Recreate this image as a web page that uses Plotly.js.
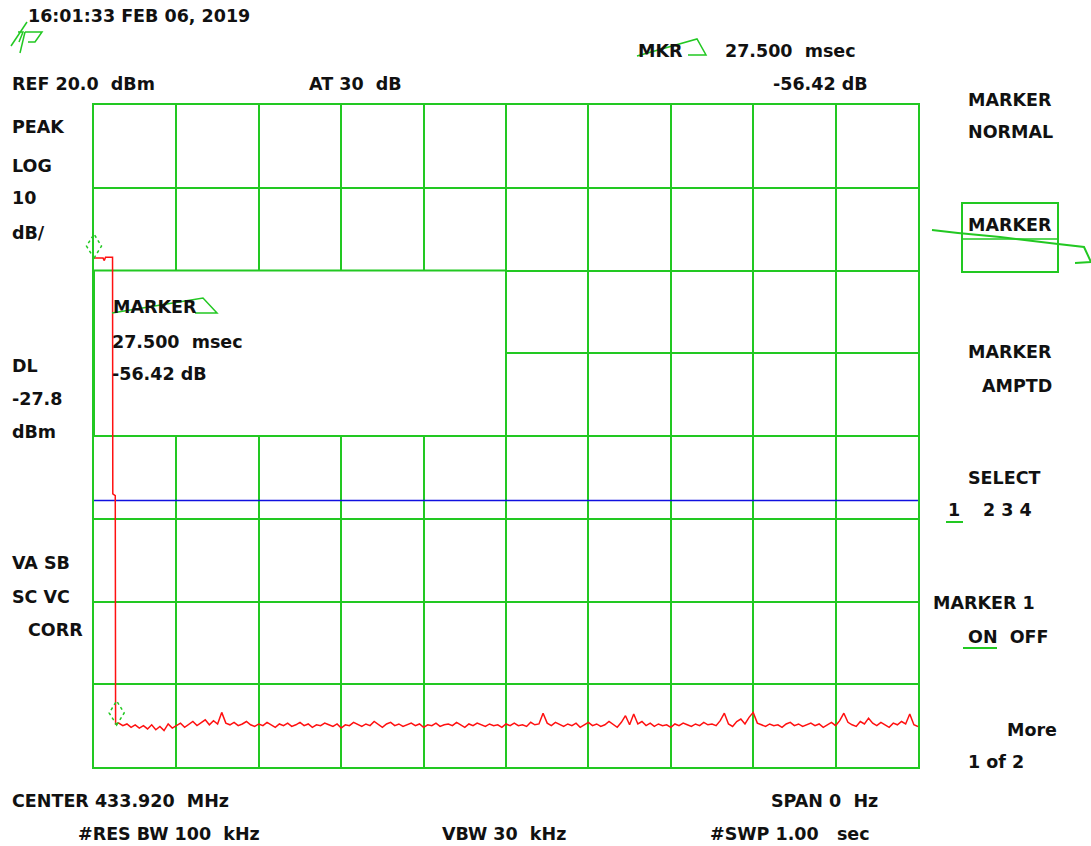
<!DOCTYPE html>
<html><head><meta charset="utf-8">
<script src="https://cdn.plot.ly/plotly-3.0.1.min.js"></script>
<style>html,body{margin:0;padding:0;background:#fff}#chart{width:1091px;height:846px}</style>
</head><body><div id="chart"></div>
<script>
// ---- instrument settings ----
const refLevel = 20;        // dBm (top of screen)
const dbPerDiv = 10;
const numDivY = 8;
const sweepTime = 1.0;      // s (span 0 Hz, time domain)
const displayLine = -27.8;  // dBm
const markerTime = 0.0275;  // s
const markerDelta = -56.42; // dB

// ---- trace: burst end (time s, level dBm) ----
const stepTimes  = [0, 0.011, 0.0125, 0.014, 0.0225, 0.0228, 0.0258, 0.0262];
const stepValues = [1.5, 1.5, 1.2, 1.6, 1.6, -27.0, -27.2, -54.8];

// ---- trace: noise floor, sampled every 5 ms from 30 ms ----
const noiseStart = 0.03;
const noiseStep = 0.005;
const noiseValues = [
 -54.7,-55.0,-54.8,-55.2,-54.9,-55.3,-55.0,-55.4,-54.9,-55.5,-55.1,-55.6,-54.8,-55.3,-55.0,
 -54.7,-55.2,-54.9,-54.5,-55.0,-54.6,-54.3,-54.9,-54.4,-54.8,-53.4,-54.7,-54.9,-54.6,-55.0,
 -54.8,-54.5,-54.9,-55.1,-54.8,-55.0,-54.6,-54.9,-55.2,-54.8,-55.0,-54.7,-55.1,-54.9,-54.6,
 -55.0,-54.8,-55.2,-54.9,-55.0,-54.7,-54.9,-55.1,-54.8,-55.3,-54.9,-55.0,-54.6,-54.9,-55.1,
 -54.8,-55.0,-54.5,-54.9,-55.2,-54.8,-54.6,-55.0,-54.8,-55.1,-54.9,-54.7,-55.0,-54.8,-55.2,
 -54.9,-55.0,-54.7,-55.1,-54.9,-54.8,-55.0,-54.6,-54.9,-55.2,-54.8,-55.0,-54.7,-54.9,-55.1,
 -54.8,-55.0,-54.9,-55.2,-54.8,-55.0,-54.7,-55.0,-54.9,-55.1,-54.6,-54.9,-54.8,-53.5,-54.7,
 -55.0,-54.6,-54.9,-55.1,-54.8,-55.0,-54.7,-55.2,-54.9,-54.6,-55.0,-54.8,-55.1,-54.9,-54.5,
 -54.9,-55.2,-54.6,-53.8,-54.9,-53.6,-54.8,-54.5,-55.0,-54.7,-55.1,-54.8,-55.0,-54.9,-55.2,
 -54.8,-55.0,-54.7,-54.9,-55.1,-54.8,-55.0,-54.6,-54.9,-54.8,-55.0,-54.4,-53.5,-54.8,-55.1,
 -54.5,-54.2,-54.8,-54.0,-53.4,-54.7,-54.9,-55.1,-54.8,-55.0,-54.9,-55.2,-54.8,-54.6,-55.0,
 -54.8,-55.1,-54.9,-54.7,-55.0,-54.8,-55.2,-54.9,-54.6,-55.0,-54.4,-53.5,-54.6,-54.9,-55.1,
 -54.5,-54.8,-54.1,-54.7,-55.0,-54.6,-54.9,-55.2,-54.7,-54.9,-54.5,-54.8,-53.6,-54.9,-55.1
];

// ---- screen annotation texts ----
const leftLabels = ["PEAK", "LOG", "10", "dB/", "DL", String(displayLine), "dBm", "VA SB", "SC VC", "CORR"];

const noiseTimes = noiseValues.map((v, i) => noiseStart + i * noiseStep);
const traceX = stepTimes.concat(noiseTimes);
const traceY = stepValues.concat(noiseValues);

// layout geometry
const L = 94, R = 918, T = 105, B = 767, W = 1091, H = 846;
const yMin = refLevel - numDivY * dbPerDiv, yMax = refLevel;
const px = x => (x - L) / (R - L);
const py = y => (B - y) / (B - T);
const GREEN = '#22c822';
const NB = '\u00a0';

const F = {family: 'DejaVu Sans, Verdana, sans-serif', size: 17.5, color: '#111', weight: 700};
function txt(s, x, y, anchor) {
  return {text: s, xref: 'paper', yref: 'paper', x: px(x), y: py(y),
    xanchor: anchor || 'left', yanchor: 'middle', showarrow: false, font: F, borderpad: 0};
}
function pathPx(points, close) {
  return points.map((p, i) => (i ? 'L' : 'M') + px(p[0]).toFixed(5) + ',' + py(p[1]).toFixed(5)).join(' ') + (close ? ' Z' : '');
}
function gshape(points, w, close) {
  return {type: 'path', xref: 'paper', yref: 'paper', path: pathPx(points, close),
    line: {color: GREEN, width: w || 1.5}, layer: 'above'};
}

const markerLevel = traceY[0] + markerDelta;
const msecTxt = (markerTime * 1000).toFixed(3) + NB + NB + 'msec';
const dbTxt = markerDelta.toFixed(2) + ' dB';

const annotations = [
  txt('16:01:33 FEB 06, 2019', 27, 16),
  txt('MKR', 637, 51),
  txt(msecTxt, 724, 51),
  txt('REF ' + refLevel.toFixed(1) + NB + NB + 'dBm', 11, 84),
  txt('AT 30' + NB + NB + 'dB', 308, 84),
  txt(dbTxt, 772, 84),
  // left column
  txt(leftLabels[0], 11, 127), txt(leftLabels[1], 11, 166), txt(leftLabels[2], 11, 198),
  txt(leftLabels[3], 11, 233), txt(leftLabels[4], 11, 366), txt(leftLabels[5], 11, 399),
  txt(leftLabels[6], 11, 432), txt(leftLabels[7], 11, 563), txt(leftLabels[8], 11, 597),
  txt(leftLabels[9], 27, 630),
  // marker box
  txt('MARKER', 112, 307), txt(msecTxt, 111, 342), txt(dbTxt, 111, 374),
  // softkeys
  txt('MARKER', 967, 100), txt('NORMAL', 967, 132),
  txt('MARKER', 967, 225),
  txt('MARKER', 967, 352), txt('AMPTD', 1053, 386, 'right'),
  txt('SELECT', 967, 478), txt('1', 947, 510), txt('2 3 4', 982, 510),
  txt('MARKER 1', 932, 603), txt('ON' + NB + NB + 'OFF', 967, 637),
  txt('More', 1058, 730, 'right'), txt('1 of 2', 967, 762),
  // bottom
  txt('CENTER 433.920' + NB + NB + 'MHz', 11, 801),
  txt('SPAN 0' + NB + NB + 'Hz', 770, 801),
  txt('#RES BW 100' + NB + NB + 'kHz', 77, 834),
  txt('VBW 30' + NB + NB + 'kHz', 441, 834),
  txt('#SWP 1.00' + NB + NB + NB + 'sec', 709, 834)
];

const diamond = 'M0,0 L7.5,12 L0,24 L-7.5,12 Z';
function diamondAt(t, v) {
  return {type: 'path', xref: 'paper', yref: 'paper', xsizemode: 'pixel', ysizemode: 'pixel',
    xanchor: t / sweepTime, yanchor: (v - yMin) / (yMax - yMin), path: diamond,
    line: {color: GREEN, width: 1.5, dash: 'dot'}, layer: 'above'};
}
const shapes = [
  // marker info box (hides grid inside)
  {type: 'rect', xref: 'x', yref: 'y', x0: 0, x1: 0.5, y0: -20, y1: 0,
   fillcolor: '#fff', line: {color: GREEN, width: 2}, layer: 'between'},
  // display line
  {type: 'line', xref: 'x', yref: 'y', x0: 0, x1: sweepTime, y0: displayLine, y1: displayLine,
   line: {color: '#1010e0', width: 1.5}, layer: 'between'},
  // marker diamonds
  diamondAt(traceX[0], traceY[0]),
  diamondAt(markerTime, markerLevel),
  // hp logo
  gshape([[27,22],[11,46]]), gshape([[18,32],[23,32],[19,42]]),
  gshape([[25,32],[20,53]]), gshape([[25,32],[42,32],[35,42],[28,42]]),
  // MKR delta symbols
  gshape([[637,56],[697,39],[706,55],[688,55]]),
  gshape([[112,313],[203,298],[217,313],[195,313]]),
  // softkey box
  {type: 'rect', xref: 'paper', yref: 'paper', x0: px(962), x1: px(1058), y0: py(272), y1: py(203),
   line: {color: GREEN, width: 2}},
  gshape([[962,239],[1058,239]], 1.5),
  gshape([[932,230],[958,233],[1000,237],[1058,244],[1084,247],[1091,262],[1075,263]], 2),
  // underlines
  gshape([[946,522],[963,522]], 2),
  gshape([[963,648],[997,648]], 2)
];

const data = [{
  x: traceX, y: traceY, type: 'scatter', mode: 'lines',
  line: {color: '#ff1010', width: 1.5}, hoverinfo: 'skip'
}];

const axisCommon = {showticklabels: false, ticks: '', zeroline: false, showgrid: true,
  gridcolor: GREEN, gridwidth: 2, showline: true, mirror: true, linecolor: GREEN, linewidth: 2, fixedrange: true};

const layout = {
  width: W, height: H, autosize: false,
  margin: {l: L, r: W - R, t: T, b: H - B, pad: 0},
  paper_bgcolor: '#fff', plot_bgcolor: '#fff', showlegend: false,
  xaxis: Object.assign({}, axisCommon, {range: [0, sweepTime], dtick: sweepTime / 10, tick0: 0}),
  yaxis: Object.assign({}, axisCommon, {range: [yMin, yMax], dtick: dbPerDiv, tick0: 0}),
  annotations: annotations, shapes: shapes
};

Plotly.newPlot('chart', data, layout, {displayModeBar: false, staticPlot: true});
</script></body></html>
